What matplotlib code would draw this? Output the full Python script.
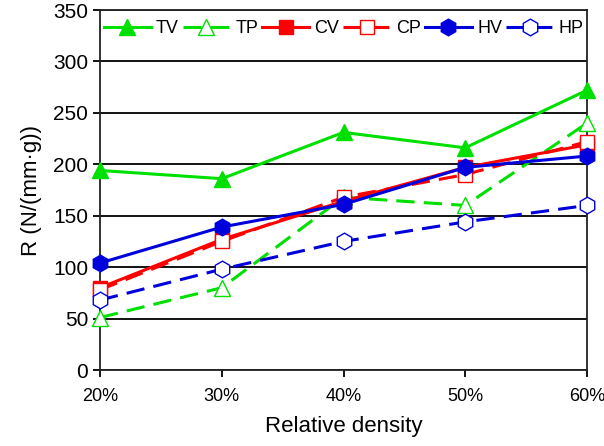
import numpy as np
import matplotlib
matplotlib.use('Agg')
import matplotlib.pyplot as plt

plt.rcParams['font.family'] = ['Liberation Sans', 'DejaVu Sans']

densidad = ['20%', '30%', '40%', '50%', '60%']
TV = [194, 186, 231, 216, 272]
TP = [51, 80, 168, 160, 240]
CV = [80, 127, 164, 197, 219]
CP = [78, 125, 168, 190, 222]
HV = [104, 139, 161, 197, 208]
HP = [68, 98, 125, 144, 160]

series = [
    ('TV', TV, '#00e000', '-', '^', True),
    ('TP', TP, '#00e000', '--', '^', False),
    ('CV', CV, '#ff0000', '-', 's', True),
    ('CP', CP, '#ff0000', '--', 's', False),
    ('HV', HV, '#0000dd', '-', 'h', True),
    ('HP', HP, '#0000dd', '--', 'h', False),
]

fig = plt.figure(figsize=(6.04, 4.46), dpi=100)
ax = fig.add_axes([100 / 604, 76 / 446, 487 / 604, 360 / 446])

x = np.arange(len(densidad))
for nombre, y, color, ls, mk, lleno in series:
    ax.plot(x, y, color=color, linestyle=ls, linewidth=2.2, marker=mk,
            markersize=12 if mk != 's' else 10,
            markerfacecolor=color if lleno else 'white',
            markeredgecolor=color, markeredgewidth=1.0,
            dashes=(6, 3) if ls == '--' else (None, None),
            label=nombre, clip_on=False, zorder=3)

ax.set_xlim(0, len(densidad) - 1)
ax.set_ylim(0, 350)
ax.set_yticks(np.arange(0, 351, 50))
ax.set_xticks(x)
ax.set_xticklabels(densidad)
ax.yaxis.grid(True, color='black', linewidth=1.3)
ax.set_axisbelow(True)
for s in ax.spines.values():
    s.set_linewidth(1.3)
    s.set_color('#222222')
ax.tick_params(axis='both', direction='out', length=5, width=1.3)
ax.tick_params(axis='y', labelsize=15)
ax.tick_params(axis='x', labelsize=13, pad=8)
ax.set_xlabel('Relative density', fontsize=16, labelpad=8)
ax.set_ylabel('R (N/(mm·g))', fontsize=16, labelpad=8)

# leyenda arriba, en la franja 300-350
leg = ax.legend(ncol=6, loc='upper left', bbox_to_anchor=(0, 0.857, 1, 0.125),
                mode='expand', borderaxespad=0, fontsize=13, handlelength=2.6,
                handletextpad=0.3, columnspacing=0.5, frameon=False,
                borderpad=0.2)

fig.savefig('out.png', dpi=100)
